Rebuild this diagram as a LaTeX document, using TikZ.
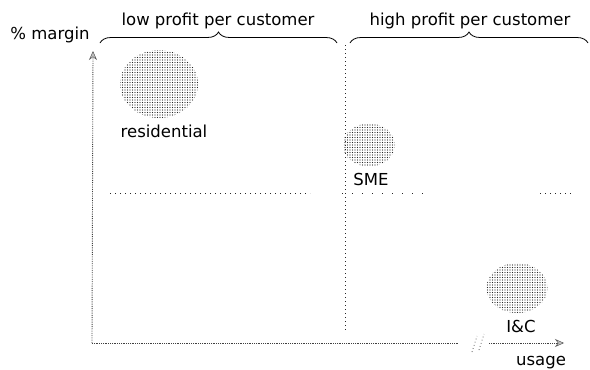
\documentclass[tikz,border=0pt]{standalone}
\usepackage{fontspec}
\setmainfont{DejaVu Sans}
\usetikzlibrary{patterns.meta, decorations.pathreplacing, arrows.meta, shapes.geometric}

\begin{document}
\begin{tikzpicture}[x=1pt, y=-1pt,
  blob/.style={ellipse, inner sep=0pt,
    pattern={Dots[distance=2.5pt, radius=0.6pt]}, pattern color=black!85},
  lbl/.style={font=\fontsize{16.5}{18}\selectfont, inner sep=0pt, anchor=base, text=black},
  axisline/.style={draw=black!75, line width=0.9pt, dash pattern=on 0.8pt off 1.0pt},
  axistip/.style={-{Stealth[length=9pt, width=8pt, fill=black!25, color=black!65, line width=0.5pt]}},
  divider/.style={draw=black!85, line width=0.8pt, dash pattern=on 0.8pt off 3.2pt},
  midline/.style={draw=black!85, line width=0.8pt, dash pattern=on 0.8pt off 4.2pt},
  sparseline/.style={draw=black!85, line width=0.8pt, dash pattern=on 0.8pt off 9.2pt},
  bracket/.style={draw=black, line width=0.8pt, decorate,
    decoration={brace, amplitude=11pt, aspect=0.5}},
  breakmark/.style={draw=black!65, line width=0.8pt, dash pattern=on 0.8pt off 2.5pt}
]
\useasboundingbox (0,0) rectangle (590,370);

% headings with braces
\coordinate (b1s) at (100,43);
\coordinate (b1e) at (337,43);
\coordinate (b2s) at (350,43);
\coordinate (b2e) at (588,43);
\draw[bracket] (b1s) -- (b1e);
\draw[bracket] (b2s) -- (b2e);
\node[lbl] (low)  at (218,25) {low profit per customer};
\node[lbl] (high) at (470,25) {high profit per customer};

% axes
\node[lbl] (ylab) at (50,39) {\% margin};
\node[lbl] (xlab) at (541,365) {usage};
\coordinate (O) at (92,343);
\coordinate (ytop) at (93,51);
\coordinate (xb1) at (458,343);
\coordinate (xb2) at (489,343);
\coordinate (xend) at (564,343);
\draw[axisline, axistip] (O) -- (ytop);
\draw[axisline] (O) -- (xb1);
\draw[axisline, axistip] (xb2) -- (xend);

% axis break
\coordinate (k1a) at (472,352);
\coordinate (k1b) at (477,336);
\coordinate (k2a) at (479,350);
\coordinate (k2b) at (484,334);
\draw[breakmark] (k1a) -- (k1b);
\draw[breakmark] (k2a) -- (k2b);

% quadrant dividers
\coordinate (dtop) at (345,45);
\coordinate (dbot) at (345,330);
\draw[divider] (dtop) -- (dbot);
\coordinate (h1) at (110,193);
\coordinate (h2) at (310,193);
\coordinate (h3) at (342,193);
\coordinate (h4) at (423,193);
\coordinate (h5) at (540,193);
\coordinate (h6) at (571,193);
\draw[midline] (h1) -- (h2);
\draw[sparseline] (h3) -- (h4);
\draw[midline] (h5) -- (h6);

% customer segments
\node[blob, minimum width=78pt, minimum height=68pt] (res) at (159,84) {};
\node[lbl] (reslbl) at (164,137) {residential};
\node[blob, minimum width=52pt, minimum height=43pt] (sme) at (369,145) {};
\node[lbl] (smelbl) at (371,185) {SME};
\node[blob, minimum width=61pt, minimum height=50pt] (ic) at (517,288) {};
\node[lbl] (iclbl) at (521,332) {I\&C};
\end{tikzpicture}
\end{document}
